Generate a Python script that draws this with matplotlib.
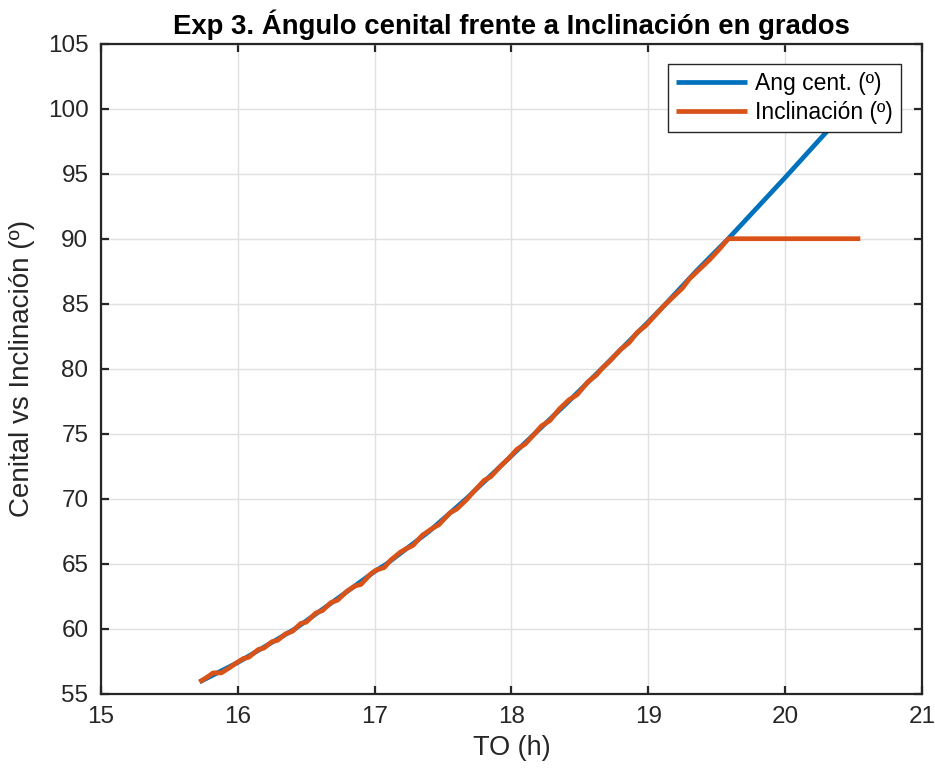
import numpy as np
import matplotlib
matplotlib.use('Agg')
import matplotlib.pyplot as plt

plt.rcParams['font.family'] = ['Liberation Sans', 'DejaVu Sans']

# MATLAB default colours
COLOR_CENT = '#0072BD'
COLOR_INCL = '#D95319'
AX_COLOR = '#262626'

# ---- data ----
# zenith angle (blue)
to_cent = [15.72, 16.00, 16.42, 16.70, 17.00, 17.09, 17.40, 17.67, 18.00,
           18.17, 18.40, 18.66, 19.00, 19.12, 19.35, 19.585, 20.00, 20.31, 20.55]
ang_cent = [55.9, 57.4, 60.0, 62.1, 64.4, 65.0, 67.5, 70.0, 73.3,
            75.0, 77.3, 80.0, 83.6, 84.9, 87.5, 90.0, 94.7, 98.3, 101.0]

# panel inclination (orange), saturates at 90
to_incl = [15.72, 15.78, 15.82, 15.88, 15.94, 15.98, 16.04, 16.08, 16.15, 16.19,
           16.25, 16.29, 16.35, 16.40, 16.46, 16.50, 16.57, 16.62, 16.68, 16.73,
           16.80, 16.86, 16.90, 16.97, 17.01, 17.07, 17.12, 17.19, 17.24, 17.28,
           17.35, 17.42, 17.47, 17.55, 17.60, 17.67, 17.72, 17.80, 17.85, 17.92,
           17.98, 18.04, 18.10, 18.17, 18.22, 18.28, 18.35, 18.42, 18.48, 18.56,
           18.62, 18.66, 18.72, 18.80, 18.86, 18.92, 18.98, 19.05, 19.12, 19.18,
           19.25, 19.30, 19.38, 19.45, 19.52, 19.585, 20.55]
inclinacion = [55.9, 56.3, 56.6, 56.6, 57.0, 57.3, 57.7, 57.8, 58.4, 58.5,
               59.0, 59.1, 59.6, 59.8, 60.4, 60.5, 61.2, 61.4, 62.0, 62.2,
               62.9, 63.3, 63.4, 64.2, 64.5, 64.7, 65.3, 65.9, 66.2, 66.4,
               67.2, 67.7, 68.0, 68.9, 69.2, 69.9, 70.5, 71.4, 71.7, 72.5,
               73.1, 73.8, 74.2, 75.0, 75.6, 76.0, 76.9, 77.6, 78.0, 79.0,
               79.5, 80.0, 80.6, 81.5, 82.0, 82.8, 83.3, 84.1, 84.9, 85.5,
               86.2, 86.9, 87.7, 88.4, 89.2, 90.0, 90.0]

x_ticks = [15, 16, 17, 18, 19, 20, 21]
y_ticks = [55, 60, 65, 70, 75, 80, 85, 90, 95, 100, 105]

fig = plt.figure(figsize=(9.35, 7.71), dpi=100)
ax = fig.add_axes([0.108, 0.1003, 0.878, 0.843])

ax.plot(to_cent, ang_cent, color=COLOR_CENT, linewidth=3.4, label='Ang cent. (º)',
        solid_capstyle='butt')
ax.plot(to_incl, inclinacion, color=COLOR_INCL, linewidth=3.4, label='Inclinación (º)',
        solid_capstyle='butt', solid_joinstyle='round')

ax.set_xlim(15, 21)
ax.set_ylim(55, 105)
ax.set_xticks(x_ticks)
ax.set_yticks(y_ticks)

ax.grid(True, color='#e0e0e0', linewidth=1.0)
ax.set_axisbelow(True)

for s in ax.spines.values():
    s.set_color(AX_COLOR)
    s.set_linewidth(1.6)
ax.tick_params(direction='in', length=6, width=1.6, colors=AX_COLOR,
               labelsize=17.5, pad=9, top=True, right=True)

ax.set_xlabel('TO (h)', fontsize=19.5, color=AX_COLOR, labelpad=5)
ax.set_ylabel('Cenital vs Inclinación (º)', fontsize=20, color=AX_COLOR, labelpad=9)
ax.set_title('Exp 3. Ángulo cenital frente a Inclinación en grados',
             fontsize=19.8, fontweight='bold', color='black', pad=7)

leg = ax.legend(loc='upper right', bbox_to_anchor=(0.9744, 0.9683), borderaxespad=0,
                fontsize=16.5, frameon=True, fancybox=False, framealpha=1,
                edgecolor=AX_COLOR, handlelength=3.1, handletextpad=0.35,
                borderpad=0.35, labelspacing=0.25)
leg.get_frame().set_linewidth(1.0)

fig.savefig('out.png', dpi=100, facecolor='white')
